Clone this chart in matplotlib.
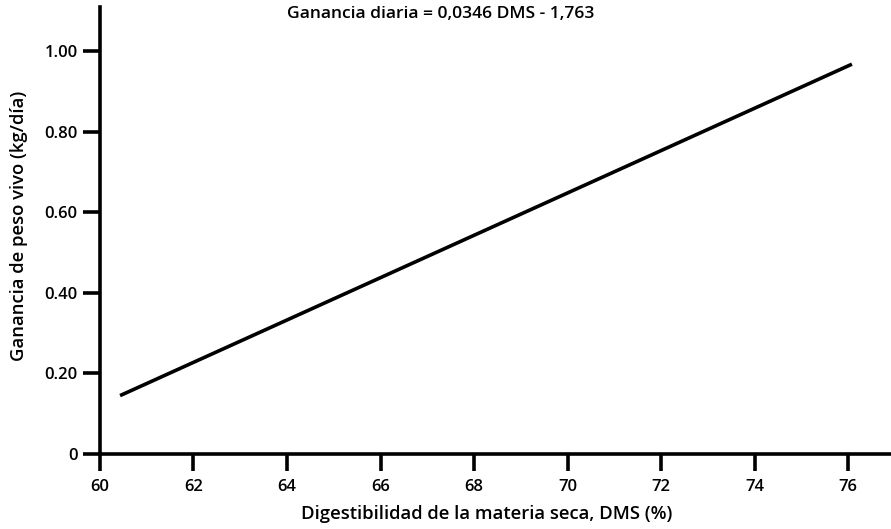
import matplotlib.pyplot as plt

# line (two end points)
dms = [60.43, 76.08]
ganancia = [0.145, 0.968]

x_ticks = [60, 62, 64, 66, 68, 70, 72, 74, 76]
y_ticks = [0, 0.2, 0.4, 0.6, 0.8, 1.0]
y_labels = ['0', '0.20', '0.40', '0.60', '0.80', '1.00']

plt.rcParams['font.family'] = ['Open Sans', 'DejaVu Sans']
plt.rcParams['font.weight'] = 'semibold'
plt.rcParams['axes.labelweight'] = 'semibold'

fig = plt.figure(figsize=(8.91, 5.29), dpi=100)
ax = fig.add_axes([0.1122, 0.1418, 0.887, 0.845])

ax.plot(dms, ganancia, color='black', lw=2.6, solid_capstyle='butt')

ax.set_xlim(60, 76.9)
ax.set_ylim(0, 1.11)
ax.set_xticks(x_ticks)
ax.set_yticks(y_ticks)
ax.set_yticklabels(y_labels)

for s in ['top', 'right']:
    ax.spines[s].set_visible(False)
for s in ['left', 'bottom']:
    ax.spines[s].set_linewidth(2.6)

ax.tick_params(axis='both', direction='out', length=12, width=2.6, labelsize=12, pad=4)
ax.tick_params(axis='x', pad=6)

ax.set_xlabel('Digestibilidad de la materia seca, DMS (%)', fontsize=13.3, labelpad=7)
ax.set_ylabel('Ganancia de peso vivo (kg/día)', fontsize=13.3, labelpad=12)
ax.xaxis.label.set_x(0.489)
ax.yaxis.label.set_y(0.511)

fig.text(0.495, 0.973, 'Ganancia diaria = 0,0346 DMS - 1,763',
         ha='center', va='center', fontsize=12.6)

fig.savefig('out.png', dpi=100)
